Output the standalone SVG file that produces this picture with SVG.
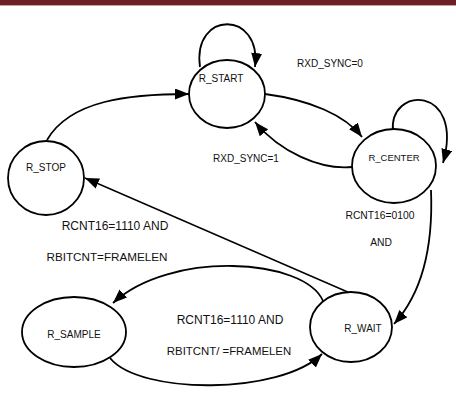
<svg xmlns="http://www.w3.org/2000/svg" width="456" height="400" viewBox="0 0 456 400">
<style>
.node{fill:#fff;stroke:#000;stroke-width:1.8}
.edge{fill:none;stroke:#000;stroke-width:1.8;marker-end:url(#arr)}
.nl{font-family:"Liberation Sans",Arial,sans-serif;font-size:10px;fill:#111;text-anchor:middle}
.el{font-family:"Liberation Sans",Arial,sans-serif;font-size:12px;fill:#111;text-anchor:middle}
</style>
<defs>
<marker id="arr" markerUnits="userSpaceOnUse" markerWidth="15" markerHeight="11" refX="14" refY="5.5" orient="auto">
<path d="M0,0 L14,5.5 L0,11 z" fill="#000"/>
</marker>
</defs>
<rect x="0" y="0" width="456" height="5" fill="#6b2125"/>
<rect x="0" y="5" width="456" height="1" fill="#c9a3a3"/>
<g id="connectors">
<path class="edge" d="M200,67 C192,10 262,10 255,67"/>
<path class="edge" d="M393,132 C388,85 465,85 443,163"/>
<path class="edge" d="M47,140 C70,100 130,94 189,94"/>
<path class="edge" d="M265,94 C310,100 345,115 362,137"/>
<path class="edge" d="M352,167 C320,170 280,152 255,122"/>
<path class="edge" d="M431,190 C433,240 425,290 394,324"/>
<path class="edge" style="stroke-width:1.4" d="M350,293 L85,178"/>
<path class="edge" d="M323,301 C305,258 170,250 113,303"/>
<path class="edge" d="M110,358 C140,395 280,395 322,354"/>
</g>
<g id="labels">
<text class="el" style="font-size:10px" x="330" y="67">RXD_SYNC=0</text>
<text class="el" style="font-size:10px" x="246" y="162">RXD_SYNC=1</text>
<text class="el" style="font-size:10.3px" x="380" y="219">RCNT16=0100</text>
<text class="el" style="font-size:10.3px" x="381" y="246">AND</text>
<text class="el" x="115" y="230">RCNT16=1110 AND</text>
<text class="el" style="font-size:11.7px" x="107" y="261">RBITCNT=FRAMELEN</text>
<text class="el" x="230" y="324">RCNT16=1110 AND</text>
<text class="el" style="font-size:11.4px" x="229" y="355">RBITCNT/ =FRAMELEN</text>
</g>
<g id="R_START"><ellipse class="node" cx="227" cy="94" rx="38" ry="34"/><text class="nl" x="221" y="82">R_START</text></g>
<g id="R_CENTER"><ellipse class="node" cx="394" cy="166" rx="42" ry="37"/><text class="nl" style="font-size:9.5px" x="394" y="161">R_CENTER</text></g>
<g id="R_STOP"><ellipse class="node" cx="46" cy="178" rx="38" ry="37"/><text class="nl" x="46" y="171">R_STOP</text></g>
<g id="R_SAMPLE"><ellipse class="node" cx="74" cy="332" rx="52" ry="35"/><text class="nl" x="74" y="338">R_SAMPLE</text></g>
<g id="R_WAIT"><ellipse class="node" cx="351" cy="327" rx="41" ry="35"/><text class="nl" x="363" y="332">R_WAIT</text></g>
</svg>
